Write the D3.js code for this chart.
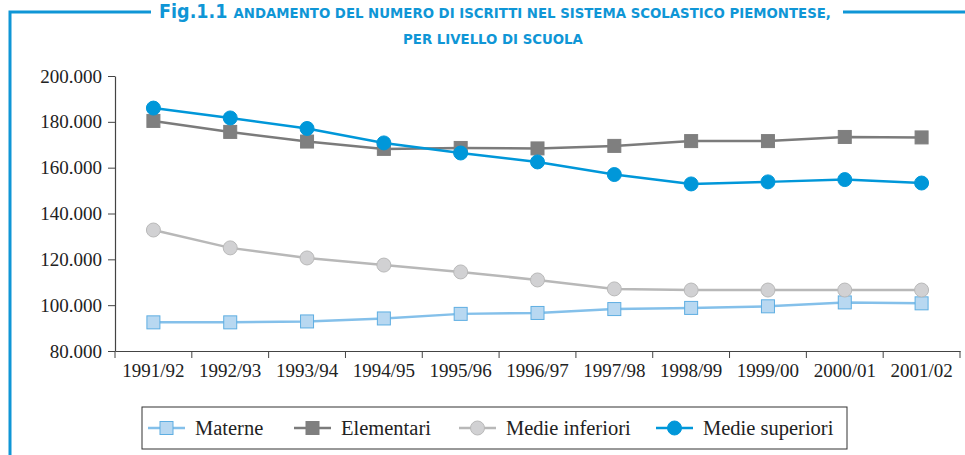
<!DOCTYPE html>
<html>
<head>
<meta charset="utf-8">
<script src="https://cdn.jsdelivr.net/npm/d3@7"></script>
<style>
  body { margin: 0; background: #fff; }
  svg { display: block; }
</style>
</head>
<body>
<div id="chart"></div>
<script>
// data
var years = ["1991/92", "1992/93", "1993/94", "1994/95", "1995/96", "1996/97",
  "1997/98", "1998/99", "1999/00", "2000/01", "2001/02"];
var materne = [92500, 92500, 92900, 94200, 96200, 96600, 98300, 98800, 99500, 101200, 100800];
var elementari = [180400, 175600, 171400, 168200, 168600, 168400, 169500, 171600, 171600, 173400, 173200];
var medieInferiori = [132800, 125000, 120600, 117500, 114500, 111000, 107100, 106600, 106600, 106600, 106600];
var medieSuperiori = [186000, 181700, 177100, 170800, 166400, 162500, 157000, 152900, 153800, 154800, 153300];
var yTicks = [80000, 100000, 120000, 140000, 160000, 180000, 200000];

var series = [
  { name: "Materne", values: materne, shape: "square", line: "#84c0ea", fill: "#b8d8f1", stroke: "#5eaee2" },
  { name: "Elementari", values: elementari, shape: "square", line: "#7b7b7b", fill: "#7f7f7f", stroke: "#7f7f7f" },
  { name: "Medie inferiori", values: medieInferiori, shape: "circle", line: "#b8b8b8", fill: "#d1d1d3", stroke: "#b9b9b9" },
  { name: "Medie superiori", values: medieSuperiori, shape: "circle", line: "#0097d9", fill: "#0097d9", stroke: "#0097d9" }
];

var W = 965, H = 455;
var blue = "#0f96d6";
var margin = { top: 76, right: 5, bottom: 104, left: 115 },
  width = W - margin.left - margin.right,
  height = H - margin.top - margin.bottom;

var svg = d3.select("#chart").append("svg")
  .attr("width", W)
  .attr("height", H);

// frame lines of the figure
svg.append("path")
  .attr("d", "M10,455 V12 H151 M843,12 H965")
  .attr("fill", "none")
  .attr("stroke", blue)
  .attr("stroke-width", 3);

// title
var titleFont = "'DejaVu Sans Condensed', 'DejaVu Sans', sans-serif";
var title = svg.append("text")
  .attr("x", 495).attr("y", 18)
  .attr("text-anchor", "middle")
  .style("font-family", titleFont)
  .style("font-weight", "bold")
  .attr("fill", blue);
title.append("tspan").style("font-size", "19.5px").text("Fig.1.1 ");
title.append("tspan").style("font-size", "14.8px").text("ANDAMENTO DEL NUMERO DI ISCRITTI NEL SISTEMA SCOLASTICO PIEMONTESE,");
svg.append("text")
  .attr("x", 493).attr("y", 44)
  .attr("text-anchor", "middle")
  .style("font-family", titleFont)
  .style("font-weight", "bold")
  .style("font-size", "14.8px")
  .attr("fill", blue)
  .text("PER LIVELLO DI SCUOLA");

var chart = svg.append("g")
  .attr("transform", "translate(" + margin.left + "," + margin.top + ")");

var x = d3.scaleBand().domain(years).range([0, width]);
var y = d3.scaleLinear().domain([80000, 200000]).range([height, 0]);

var fmt = function (d) { return d3.format(",")(d).replace(/,/g, "."); };

// Y axis
var yAxis = chart.append("g")
  .call(d3.axisLeft(y).tickValues(yTicks).tickFormat(fmt).tickSize(7).tickSizeOuter(0));
// X axis
var xAxis = chart.append("g")
  .attr("transform", "translate(0," + height + ")")
  .call(d3.axisBottom(x).tickSize(0));
// x tick marks at band boundaries
xAxis.selectAll(".bound")
  .data(years.concat(["end"]))
  .enter().append("line")
  .attr("x1", function (d, i) { return i * x.step(); })
  .attr("x2", function (d, i) { return i * x.step(); })
  .attr("y1", 0).attr("y2", 7)
  .attr("stroke", "#444");

[yAxis, xAxis].forEach(function (a) {
  a.selectAll("path.domain").attr("stroke", "#444").attr("stroke-width", 1.2);
  a.selectAll(".tick line").attr("stroke", "#444");
  a.selectAll("text")
    .style("font-family", "'Liberation Serif', 'DejaVu Serif', serif")
    .style("font-size", "19px")
    .attr("fill", "#222");
});
yAxis.selectAll("text").attr("x", -13);
xAxis.selectAll(".tick text").attr("y", 13).attr("dy", "0.71em");

var cx = function (d, i) { return x(years[i]) + x.bandwidth() / 2; };

function drawMarker(g, s, px, py) {
  if (s.shape === "square") {
    g.append("rect")
      .attr("x", px - 6.5).attr("y", py - 6.5)
      .attr("width", 13).attr("height", 13)
      .attr("fill", s.fill).attr("stroke", s.stroke).attr("stroke-width", 1);
  } else {
    g.append("circle")
      .attr("cx", px).attr("cy", py).attr("r", 7)
      .attr("fill", s.fill).attr("stroke", s.stroke).attr("stroke-width", 1);
  }
}

series.forEach(function (s) {
  chart.append("path")
    .datum(s.values)
    .attr("fill", "none")
    .attr("stroke", s.line)
    .attr("stroke-width", 2.5)
    .attr("d", d3.line()
      .x(cx)
      .y(function (d) { return y(d); }));
  var g = chart.append("g");
  s.values.forEach(function (v, i) { drawMarker(g, s, cx(v, i), y(v)); });
});

// legend
var legend = svg.append("g");
legend.append("rect")
  .attr("x", 142).attr("y", 407)
  .attr("width", 705).attr("height", 42)
  .attr("fill", "none").attr("stroke", "#333").attr("stroke-width", 1);
var legendX = [148, 294, 459, 656];
series.forEach(function (s, i) {
  var lx = legendX[i], ly = 428;
  legend.append("line")
    .attr("x1", lx).attr("x2", lx + 37)
    .attr("y1", ly).attr("y2", ly)
    .attr("stroke", s.line).attr("stroke-width", 2.5);
  drawMarker(legend, s, lx + 18.5, ly);
  legend.append("text")
    .attr("x", lx + 47).attr("y", ly + 7)
    .style("font-family", "'Liberation Serif', 'DejaVu Serif', serif")
    .style("font-size", "20.5px")
    .attr("fill", "#222")
    .text(s.name);
});
</script>
</body>
</html>
